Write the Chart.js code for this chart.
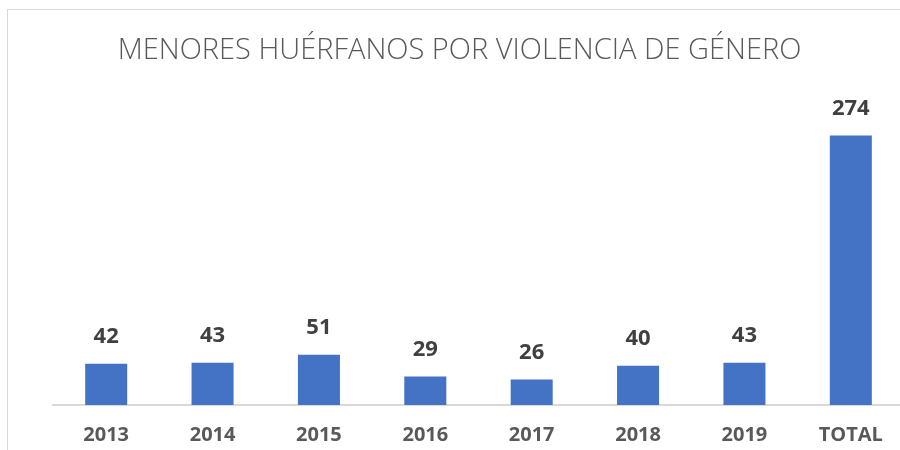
<!DOCTYPE html>
<html>
<head>
<meta charset="utf-8">
<script src="https://cdn.jsdelivr.net/npm/chart.js@4.4.1/dist/chart.umd.min.js"></script>
<style>
    html, body { margin: 0; padding: 0; background: #fff; overflow: hidden; }
    #wrap { position: relative; width: 900px; height: 450px; overflow: hidden; }
    #frame { position: absolute; left: 7px; top: 9px; width: 920px; height: 470px;
             border-left: 1.5px solid #d9d9d9; border-top: 1.5px solid #d9d9d9; }
    #box { position: absolute; left: 0; top: 0; width: 910px; height: 460px; }
</style>
</head>
<body>
<div id="wrap">
    <div id="frame"></div>
    <div id="box"><canvas id="chart"></canvas></div>
</div>
<script>
// chart data
const categories = ['2013', '2014', '2015', '2016', '2017', '2018', '2019', 'TOTAL'];
const orphans = [42, 43, 51, 29, 26, 40, 43, 274];
const barColor = '#4472C4';

// draws the value above each bar
const valueLabels = {
    id: 'valueLabels',
    afterDatasetsDraw(chart) {
        const ctx = chart.ctx;
        const meta = chart.getDatasetMeta(0);
        ctx.save();
        ctx.font = 'bold 22px "Open Sans", sans-serif';
        ctx.fillStyle = '#404040';
        ctx.textAlign = 'center';
        ctx.textBaseline = 'middle';
        meta.data.forEach((bar, i) => {
            ctx.fillText(String(orphans[i]), bar.x, bar.y - 27);
        });
        ctx.restore();
    }
};

new Chart(document.getElementById('chart'), {
    type: 'bar',
    data: {
        labels: categories,
        datasets: [{
            label: 'Menores huérfanos',
            data: orphans,
            backgroundColor: barColor,
            borderWidth: 0,
            barPercentage: 0.395,
            categoryPercentage: 1
        }]
    },
    options: {
        responsive: true,
        maintainAspectRatio: false,
        animation: false,
        layout: {
            padding: { left: 15, right: 6, top: 0, bottom: 3 }
        },
        plugins: {
            legend: { display: false },
            tooltip: { enabled: false },
            title: {
                display: true,
                text: 'MENORES HUÉRFANOS POR VIOLENCIA DE GÉNERO',
                color: '#595959',
                font: { family: '"Open Sans", sans-serif', size: 29, weight: '300' },
                padding: { top: 33, bottom: 42 }
            }
        },
        scales: {
            x: {
                grid: { display: false },
                border: { color: '#d9d9d9', width: 2 },
                ticks: {
                    color: '#595959',
                    font: { family: '"Open Sans", sans-serif', size: 20, weight: 'bold' },
                    padding: 10
                }
            },
            y: {
                min: 0,
                max: 300,
                grid: { display: false },
                border: { display: false },
                ticks: { display: false },
                // empty space left of the bars
                afterFit(axis) { axis.width = 38; }
            }
        }
    },
    plugins: [valueLabels]
});
</script>
</body>
</html>
